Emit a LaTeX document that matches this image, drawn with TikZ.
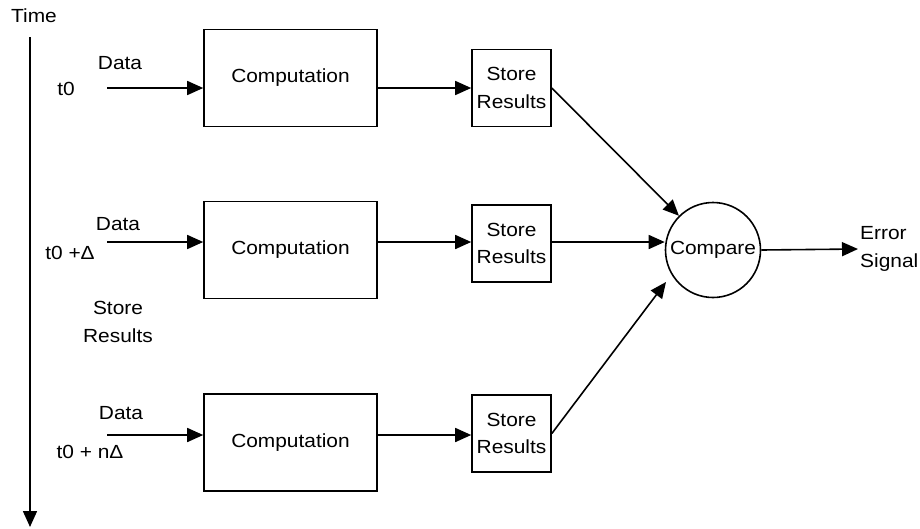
\documentclass[tikz,border=0pt]{standalone}
\usepackage{fontspec}
\setmainfont{Liberation Sans}[FakeStretch=1.1]
\usetikzlibrary{arrows.meta}

\begin{document}
\begin{tikzpicture}[x=1pt,y=-1pt,
  lbl/.style={font=\fontsize{19}{27.5}\selectfont, inner sep=0pt, align=center},
  box/.style={draw, line width=1.6pt, inner sep=0pt, font=\fontsize{19}{27.5}\selectfont, align=center},
  compbox/.style={box, minimum width=173pt, minimum height=97pt},
  storebox/.style={box, minimum width=79pt, minimum height=77pt},
  flow/.style={line width=1.6pt, -{Triangle[length=16pt,width=14pt]}}]
\useasboundingbox (0,0) rectangle (920,528);

% time axis
\node[lbl] (time) at (34,16) {Time};
\coordinate (axtop) at (30,37);
\coordinate (axbot) at (30,527);
\draw[flow] (axtop) -- (axbot);

% time stamps and inputs
\node[lbl] (t1) at (66,89) {t0};
\node[lbl] (t2) at (70,253) {t0 +Δ};
\node[lbl] (t3) at (90,452) {t0 + nΔ};
\node[lbl] (d1) at (120,63) {Data};
\node[lbl] (d2) at (118,224) {Data};
\node[lbl] (d3) at (121,413) {Data};
\node[lbl] (sr) at (118,322) {Store\\Results};
\coordinate (in1) at (107,88);
\coordinate (in2) at (107,242);
\coordinate (in3) at (107,435);

% computation stages
\node[compbox] (c1) at (290.5,78) {Computation};
\node[compbox] (c2) at (290.5,250) {Computation};
\node[compbox] (c3) at (290.5,442.5) {Computation};

% result stores
\node[storebox] (s1) at (511.5,88) {Store\\Results};
\node[storebox] (s2) at (511.5,243.5) {Store\\Results};
\node[storebox] (s3) at (511.5,433.5) {Store\\Results};

% comparator and output
\node[box, circle, minimum size=95pt] (cmp) at (713,250) {Compare};
\coordinate (cin3) at (666,282);
\coordinate (err) at (858,249);
\node[lbl, align=left, anchor=west] (es) at (860,249) {Error\\Signal};

\draw[flow] (in1) -- (in1 -| c1.west);
\draw[flow] (in2) -- (in2 -| c2.west);
\draw[flow] (in3) -- (in3 -| c3.west);

\draw[flow] (s1.west -| c1.east) -- (s1.west);
\draw[flow] (c2.east |- in2) -- (s2.west |- in2);
\draw[flow] (c3.east |- in3) -- (s3.west |- in3);

\draw[flow] (s1.east) -- (cmp);
\draw[flow] (s2.east |- in2) -- (in2 -| cmp.west);
\draw[flow] (s3.east) -- (cin3);
\draw[flow] (cmp.east) -- (err);
\end{tikzpicture}
\end{document}
